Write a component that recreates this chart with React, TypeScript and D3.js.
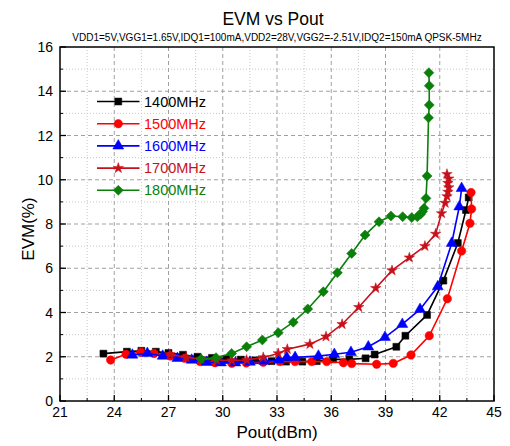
import React from "react";
import * as d3 from "d3";

const title = "EVM vs Pout";
const subtitle = "VDD1=5V,VGG1=1.65V,IDQ1=100mA,VDD2=28V,VGG2=-2.51V,IDQ2=150mA QPSK-5MHz";
const xLabel = "Pout(dBm)";
const yLabel = "EVM(%)";
const xTicks = [21, 24, 27, 30, 33, 36, 39, 42, 45];
const yTicks = [0, 2, 4, 6, 8, 10, 12, 14, 16];
const seriesNames = ["1400MHz", "1500MHz", "1600MHz", "1700MHz", "1800MHz"];
const seriesColors = ["#000000", "#ff0000", "#0000ff", "#c8101a", "#0a7f0a"];

const s1400: [number, number][] = [
  [23.4, 2.14], [24.7, 2.23], [25.5, 2.27], [26.3, 2.23], [27.0, 2.17], [27.8, 2.09], [28.6, 2.0],
  [29.4, 1.95], [30.2, 1.9], [31.0, 1.87], [31.8, 1.84], [32.7, 1.8], [33.5, 1.78], [34.4, 1.78],
  [35.2, 1.8], [36.1, 1.88], [37.0, 1.88], [37.9, 1.93], [38.4, 2.1], [39.6, 2.45], [40.1, 2.95],
  [41.3, 3.89], [42.2, 5.44], [43.0, 7.14], [43.45, 8.63], [43.6, 9.2],
];
const s1500: [number, number][] = [
  [23.8, 1.85], [24.65, 2.11], [25.48, 2.2], [26.2, 2.15], [27.1, 2.03], [27.9, 1.93], [28.74, 1.78],
  [29.57, 1.73], [30.5, 1.7], [31.3, 1.72], [32.24, 1.75], [33.17, 1.78], [34.0, 1.78], [34.92, 1.78],
  [35.75, 1.78], [36.67, 1.73], [37.13, 1.69], [38.51, 1.66], [39.43, 1.7], [40.41, 2.08],
  [41.42, 2.95], [42.42, 4.62], [43.21, 6.78], [43.67, 8.03], [43.76, 8.68], [43.73, 9.42],
];
const s1600: [number, number][] = [
  [25.0, 2.08], [25.83, 2.15], [26.68, 2.03], [27.49, 1.93], [28.28, 1.85], [29.11, 1.75], [29.9, 1.73],
  [30.7, 1.73], [31.5, 1.76], [32.3, 1.8], [33.1, 1.86], [33.54, 1.97], [34.0, 1.97], [35.29, 2.03],
  [36.17, 2.11], [37.09, 2.2], [38.05, 2.45], [38.97, 2.88], [39.93, 3.47], [40.91, 4.14],
  [41.89, 5.17], [42.66, 7.13], [43.08, 8.78], [43.21, 9.61],
];
const s1700: [number, number][] = [
  [27.08, 2.11], [27.97, 1.97], [28.8, 1.9], [29.66, 1.85], [30.5, 1.83], [31.32, 1.85], [32.24, 1.97],
  [33.07, 2.15], [33.57, 2.34], [34.82, 2.57], [35.71, 2.91], [36.6, 3.47], [37.52, 4.24],
  [38.46, 5.1], [39.36, 5.9], [40.32, 6.48], [41.18, 7.0], [41.77, 7.55], [42.1, 8.48],
  [42.3, 8.95], [42.4, 9.25], [42.45, 9.45], [42.5, 9.65], [42.45, 9.85], [42.5, 10.05], [42.4, 10.25],
];
const s1800: [number, number][] = [
  [28.8, 1.9], [29.63, 1.96], [30.49, 2.15], [31.32, 2.45], [32.19, 2.76], [33.07, 3.09], [33.9, 3.56],
  [34.7, 4.16], [35.56, 4.94], [36.34, 5.8], [37.13, 6.67], [37.87, 7.5], [38.64, 8.1], [39.3, 8.36],
  [39.95, 8.33], [40.45, 8.29], [40.76, 8.33], [40.94, 8.44], [41.05, 8.56], [41.13, 8.71],
  [41.24, 9.16], [41.3, 10.17], [41.38, 12.8], [41.42, 13.38], [41.42, 14.25], [41.4, 14.84],
];
const seriesData = [s1400, s1500, s1600, s1700, s1800];

const W = 510;
const H = 446;
const L = 60, R = 494, T = 47, B = 401;

const symbolTypes = [d3.symbolSquare, d3.symbolCircle, d3.symbolTriangle, d3.symbolStar, d3.symbolSquare];
const symbolSizes = [48, 56, 52, 34, 50];
const symbolRotate = [0, 0, 0, 0, 45];

export default function App() {
  const x = d3.scaleLinear().domain([21, 45]).range([L, R]);
  const y = d3.scaleLinear().domain([0, 16]).range([B, T]);
  const line = d3.line<[number, number]>().x((d) => x(d[0])).y((d) => y(d[1]));
  const font = "Arial, 'Liberation Sans', sans-serif";

  const xMinor = d3.range(21, 45.01, 1.5).filter((v) => !xTicks.includes(v));
  const yMinor = d3.range(1, 16, 2);

  const symPath = (i: number) => d3.symbol().type(symbolTypes[i]).size(symbolSizes[i])() as string;

  return (
    <svg width={W} height={H} style={{ position: "absolute", left: 0, top: 0 }} fontFamily={font}>
      <rect x={0} y={0} width={W} height={H} fill="#fff" />
      {/* grid */}
      {xMinor.map((v) => (
        <line key={"xm" + v} x1={x(v)} x2={x(v)} y1={T} y2={B} stroke="#c8c8c8" strokeWidth={1} strokeDasharray="1,2" />
      ))}
      {yMinor.map((v) => (
        <line key={"ym" + v} x1={L} x2={R} y1={y(v)} y2={y(v)} stroke="#c8c8c8" strokeWidth={1} strokeDasharray="1,2" />
      ))}
      {xTicks.slice(1, -1).map((v) => (
        <line key={"xg" + v} x1={x(v)} x2={x(v)} y1={T} y2={B} stroke="#a0a0a0" strokeWidth={1} strokeDasharray="4,3" />
      ))}
      {yTicks.slice(1, -1).map((v) => (
        <line key={"yg" + v} x1={L} x2={R} y1={y(v)} y2={y(v)} stroke="#a0a0a0" strokeWidth={1} strokeDasharray="4,3" />
      ))}
      {/* ticks */}
      {xTicks.map((v) => (
        <line key={"xt" + v} x1={x(v)} x2={x(v)} y1={B} y2={B - 6} stroke="#000" strokeWidth={1.3} />
      ))}
      {xMinor.map((v) => (
        <line key={"xmt" + v} x1={x(v)} x2={x(v)} y1={B} y2={B - 3} stroke="#000" strokeWidth={1} />
      ))}
      {yTicks.map((v) => (
        <line key={"yt" + v} x1={L} x2={L + 6} y1={y(v)} y2={y(v)} stroke="#000" strokeWidth={1.3} />
      ))}
      {yMinor.map((v) => (
        <line key={"ymt" + v} x1={L} x2={L + 3} y1={y(v)} y2={y(v)} stroke="#000" strokeWidth={1} />
      ))}
      {/* series */}
      {seriesData.map((data, i) => (
        <g key={"s" + i}>
          <path d={line(data) as string} fill="none" stroke={seriesColors[i]} strokeWidth={1.6} />
          {data.map((d, j) => (
            <path key={j} d={symPath(i)} transform={`translate(${x(d[0])},${y(d[1])}) rotate(${symbolRotate[i]})`} fill={seriesColors[i]} stroke={seriesColors[i]} strokeWidth={0.5} />
          ))}
        </g>
      ))}
      {/* frame */}
      <rect x={L} y={T} width={R - L} height={B - T} fill="none" stroke="#000" strokeWidth={1.5} />
      {/* tick labels */}
      {xTicks.map((v) => (
        <text key={"xl" + v} x={x(v)} y={417} fontSize={14} textAnchor="middle" fill="#000">{v}</text>
      ))}
      {yTicks.map((v) => (
        <text key={"yl" + v} x={53} y={y(v) + 5} fontSize={14} textAnchor="end" fill="#000">{v}</text>
      ))}
      {/* titles */}
      <text x={273} y={25} fontSize={17.5} textAnchor="middle" fill="#000">{title}</text>
      <text x={277} y={40.5} fontSize={10} textAnchor="middle" fill="#000">{subtitle}</text>
      <text x={277} y={438} fontSize={17} textAnchor="middle" fill="#000">{xLabel}</text>
      <text transform={`translate(34,229) rotate(-90)`} fontSize={17} textAnchor="middle" fill="#000">{yLabel}</text>
      {/* legend */}
      {seriesNames.map((name, i) => {
        const ly = 101.5 + i * 22.2;
        return (
          <g key={"lg" + i}>
            <line x1={97} x2={139.5} y1={ly} y2={ly} stroke={seriesColors[i]} strokeWidth={1.6} />
            <path d={symPath(i)} transform={`translate(118.3,${ly}) rotate(${symbolRotate[i]})`} fill={seriesColors[i]} stroke={seriesColors[i]} strokeWidth={0.5} />
            <text x={144} y={ly + 5} fontSize={14.5} fill={seriesColors[i]}>{name}</text>
          </g>
        );
      })}
    </svg>
  );
}
